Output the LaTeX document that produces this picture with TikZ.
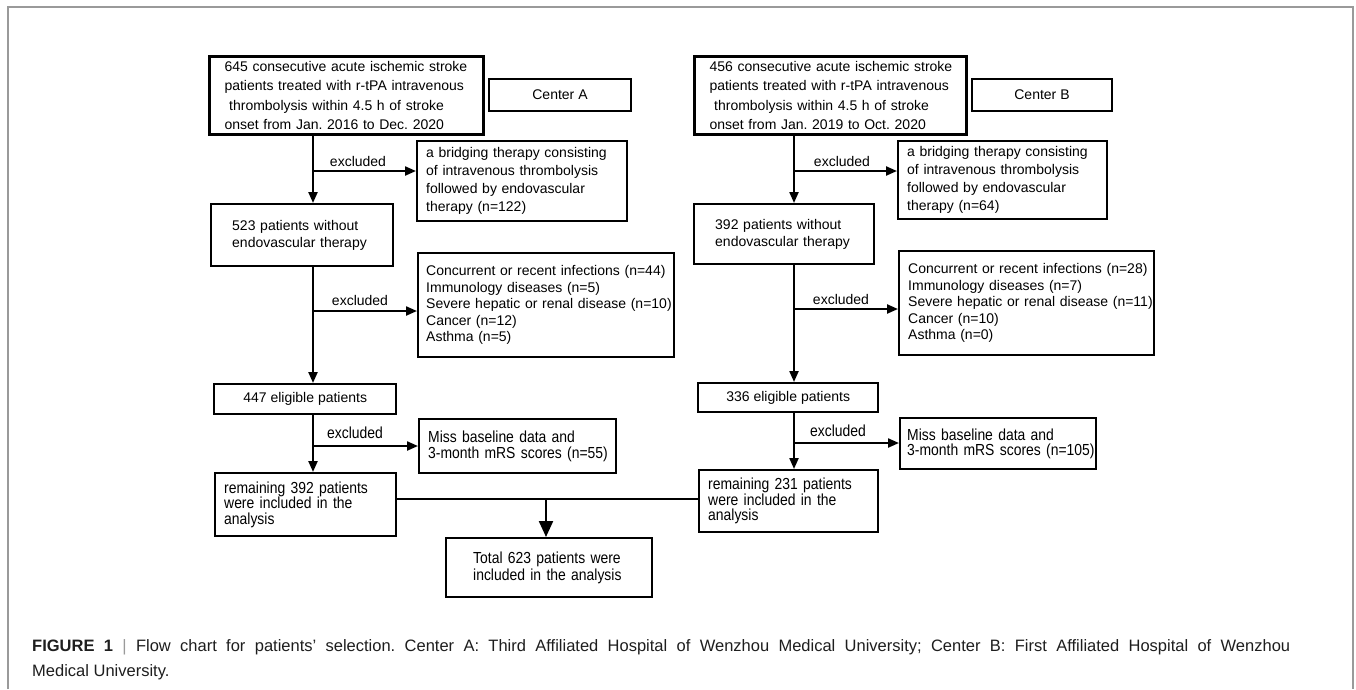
\documentclass[tikz,border=0pt]{standalone}
\usepackage{fontspec}
\setmainfont{Liberation Sans}
\newfontfamily\narrowf{Liberation Sans}[FakeStretch=0.87]
\usetikzlibrary{arrows.meta}
\definecolor{framec}{HTML}{9A9A9A}
\definecolor{capc}{HTML}{1E1E1E}
\newcommand{\fsN}{\fontsize{14}{16.5}\selectfont}
\newcommand{\fsT}{\fontsize{14}{19.3}\selectfont}
\newcommand{\fsR}{\fontsize{14}{18}\selectfont}
\newcommand{\fsM}{\narrowf\fontsize{16}{15.6}\selectfont}
\newcommand{\fsL}{\narrowf\fontsize{16}{17}\selectfont}
\newcommand{\fsC}{\fontsize{16.5}{19}\selectfont}
\frenchspacing
\begin{document}
\begin{tikzpicture}[x=1pt,y=-1pt,
  bx/.style={draw, line width=2.4pt, anchor=north west, align=left, inner ysep=0pt, font=\fsN},
  arr/.style={line width=2.2pt, -{Triangle[length=11pt,width=9pt]}},
  bigarr/.style={line width=2.2pt, -{Triangle[length=16pt,width=14pt]}},
  ln/.style={line width=2.2pt},
  lab/.style={font=\fsN, inner sep=0pt},
  nlab/.style={font=\fsL, inner sep=0pt}]
\useasboundingbox (0,0) rectangle (1356,689);
\fill[white] (0,0) rectangle (1356,689);
\draw[line width=1.5pt, framec] (8,689) -- (8,7) -- (1353,7) -- (1353,689);

% ---------------- Center A ----------------
\node[bx, line width=3pt, minimum height=78pt, inner xsep=15pt, text width=244pt, font=\fsT] (A1) at (208,55)
 {\mbox{645 consecutive acute ischemic stroke}\\\mbox{patients treated with r-tPA intravenous}\\\mbox{\ thrombolysis within 4.5 h of stroke}\\\mbox{onset from Jan. 2016 to Dec. 2020}};
\node[bx, line width=2pt, minimum width=142pt, minimum height=32pt, align=center] (CA) at (488,78) {Center A};
\node[bx, minimum height=80pt, inner xsep=9pt, text width=192pt, font=\fsR] (XA1) at (416,140)
 {\mbox{a bridging therapy consisting}\\\mbox{of intravenous thrombolysis}\\\mbox{followed by endovascular}\\\mbox{therapy (n=122)}};
\node[bx, minimum height=62pt, inner xsep=21pt, text width=140pt] (A2) at (210,203)
 {\mbox{523 patients without}\\\mbox{endovascular therapy}};
\node[bx, minimum height=104pt, inner xsep=8pt, text width=240pt] (XA2) at (417,252)
 {\mbox{Concurrent or recent infections (n=44)}\\\mbox{Immunology diseases (n=5)}\\\mbox{Severe hepatic or renal disease (n=10)}\\\mbox{Cancer (n=12)}\\\mbox{Asthma (n=5)}};
\node[bx, minimum width=182pt, minimum height=30pt, align=center] (A3) at (213,383) {447 eligible patients};
\node[bx, minimum height=54pt, inner xsep=9pt, text width=179pt, font=\fsM] (XA3) at (418,418)
 {\mbox{Miss baseline data and}\\\mbox{3-month mRS scores (n=55)}};
\node[bx, minimum height=63pt, inner xsep=9pt, text width=163pt, font=\fsM] (A4) at (214,472)
 {\mbox{remaining 392 patients}\\\mbox{were included in the}\\\mbox{analysis}};

\coordinate (tA) at (313,0);
\coordinate (eA1) at (313,171);
\coordinate (eA2) at (313,311);
\coordinate (eA3) at (313,446);
\draw[arr] (A1.south -| tA) -- (A2.north -| tA);
\draw[arr] (eA1) -- (eA1 -| XA1.west);
\draw[arr] (A2.south -| tA) -- (A3.north -| tA);
\draw[arr] (eA2) -- (eA2 -| XA2.west);
\draw[arr] (A3.south -| tA) -- (A4.north -| tA);
\draw[arr] (eA3) -- (eA3 -| XA3.west);
\node[lab] at (358,161) {excluded};
\node[lab] at (360,300) {excluded};
\node[nlab] at (355,433) {excluded};

% ---------------- Center B ----------------
\node[bx, line width=3pt, minimum height=78pt, inner xsep=15pt, text width=242pt, font=\fsT] (B1) at (693,55)
 {\mbox{456 consecutive acute ischemic stroke}\\\mbox{patients treated with r-tPA intravenous}\\\mbox{\ thrombolysis within 4.5 h of stroke}\\\mbox{onset from Jan. 2019 to Oct. 2020}};
\node[bx, line width=2pt, minimum width=140pt, minimum height=32pt, align=center] (CB) at (971,78) {Center B};
\node[bx, minimum height=78pt, inner xsep=9pt, text width=191pt, font=\fsR] (XB1) at (897,140)
 {\mbox{a bridging therapy consisting}\\\mbox{of intravenous thrombolysis}\\\mbox{followed by endovascular}\\\mbox{therapy (n=64)}};
\node[bx, minimum height=60pt, inner xsep=21pt, text width=138pt] (B2) at (693,203)
 {\mbox{392 patients without}\\\mbox{endovascular therapy}};
\node[bx, minimum height=104pt, inner xsep=9pt, text width=237pt] (XB2) at (898,250)
 {\mbox{Concurrent or recent infections (n=28)}\\\mbox{Immunology diseases (n=7)}\\\mbox{Severe hepatic or renal disease (n=11)}\\\mbox{Cancer (n=10)}\\\mbox{Asthma (n=0)}};
\node[bx, minimum width=180pt, minimum height=29pt, align=center] (B3) at (697,382) {336 eligible patients};
\node[bx, minimum height=51pt, inner xsep=7pt, text width=182pt, font=\fsM] (XB3) at (899,417)
 {\mbox{Miss baseline data and}\\\mbox{3-month mRS scores (n=105)}};
\node[bx, minimum height=62pt, inner xsep=9pt, text width=161pt, font=\fsM] (B4) at (698,469)
 {\mbox{remaining 231 patients}\\\mbox{were included in the}\\\mbox{analysis}};

\coordinate (tB) at (794,0);
\coordinate (eB1) at (794,171);
\coordinate (eB2) at (794,309);
\coordinate (eB3) at (794,443);
\draw[arr] (B1.south -| tB) -- (B2.north -| tB);
\draw[arr] (eB1) -- (eB1 -| XB1.west);
\draw[arr] (B2.south -| tB) -- (B3.north -| tB);
\draw[arr] (eB2) -- (eB2 -| XB2.west);
\draw[arr] (B3.south -| tB) -- (B4.north -| tB);
\draw[arr] (eB3) -- (eB3 -| XB3.west);
\node[lab] at (842,161) {excluded};
\node[lab] at (841,299) {excluded};
\node[nlab] at (838,431) {excluded};

% ---------------- Total ----------------
\node[bx, minimum height=59pt, inner xsep=27pt, text width=152pt, font=\fsL] (T) at (445,537)
 {\mbox{Total 623 patients were}\\\mbox{included in the analysis}};
\coordinate (mg) at (546,499);
\draw[ln] (A4.east |- mg) -- (B4.west |- mg);
\draw[bigarr] (mg) -- (T.north -| mg);

% ---------------- Caption ----------------
\node[anchor=west, inner sep=0pt, font=\fsC, text=capc] (cap1) at (32,647)
 {\makebox[1258pt][s]{\textbf{FIGURE 1} {\color{framec}|} Flow chart for patients' selection. Center A: Third Affiliated Hospital of Wenzhou Medical University; Center B: First Affiliated Hospital of Wenzhou}};
\node[anchor=west, inner sep=0pt, font=\fsC, text=capc] (cap2) at (32,672) {Medical University.};
\end{tikzpicture}
\end{document}
